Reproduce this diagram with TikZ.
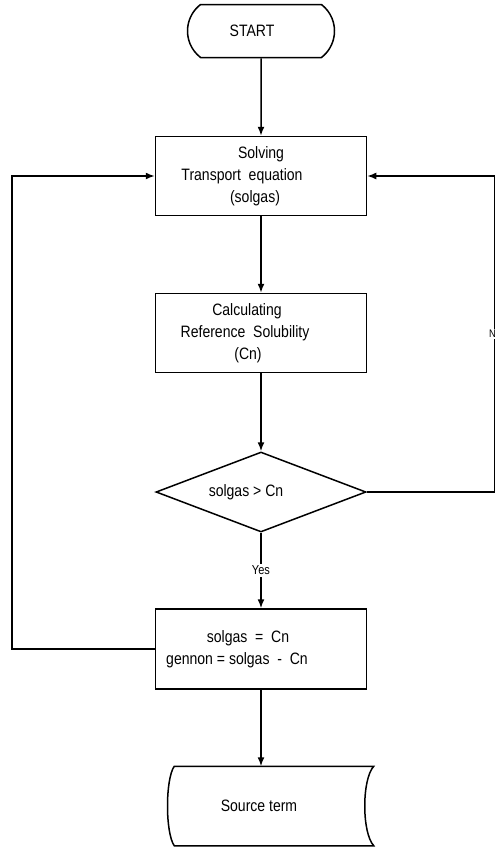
\documentclass[tikz,border=0pt]{standalone}
\usepackage{fontspec}
\setmainfont[FakeStretch=0.85]{Liberation Sans}
\usetikzlibrary{arrows.meta,shapes.geometric,shapes.misc}

\tikzset{
  box/.style={draw, line width=1.5pt, minimum width=211pt, minimum height=79pt,
    align=center, inner sep=0pt, font=\fontsize{16.5}{22}\selectfont},
  flow/.style={line width=1.5pt, -{Latex[length=9pt,width=7pt]}},
  lbl/.style={fill=white, inner sep=1.5pt, font=\fontsize{13}{14}\selectfont},
}

\begin{document}
\begin{tikzpicture}[x=1pt, y=-1pt]
  \useasboundingbox (0,0) rectangle (495,847);
  \fill[white] (0,0) rectangle (495,847);

  \node[box, rounded rectangle, rounded rectangle arc length=105,
    minimum width=147pt, minimum height=53pt] (start) at (261,31) {\hspace*{-18pt}START};

  \node[box] (b1) at (261,176)
    {Solving\\\hspace*{-38pt}Transport~ equation\\\hspace*{-12pt}(solgas)};

  \node[box] (b2) at (261,333)
    {\hspace*{-28pt}Calculating\\\hspace*{-32pt}Reference~ Solubility\\\hspace*{-26pt}(Cn)};

  \node[box, diamond, aspect=2.625, minimum width=210pt, minimum height=80pt]
    (dec) at (261,492) {\hspace*{-30pt}solgas > Cn};

  \node[box, minimum height=80pt] (b3) at (261,649)
    {\hspace*{-26pt}solgas~ =~ Cn\\\hspace*{-48pt}gennon = solgas~ -~ Cn};

  % stored data
  \node[box, draw=none, minimum width=198pt, minimum height=78pt] (src) at (274,806)
    {\hspace*{-30pt}Source term};
  \draw[line width=1.5pt] (src.north west) .. controls +(-9,13) and +(-9,-13) .. (src.south west)
    -- (src.south east) .. controls +(-12,-13) and +(-12,13) .. (src.north east) -- cycle;

  \draw[flow] (start) -- (b1);
  \draw[flow] (b1) -- (b2);
  \draw[flow] (b2) -- (dec);
  \draw[flow] (dec) -- node[lbl] {Yes} (b3);
  \draw[flow] (dec.east) -- ++(128,0) |- node[lbl, font=\fontsize{11}{12}\selectfont,
    pos=0.25, anchor=west, xshift=-8pt] {No} (b1.east);
  \draw[flow] (b3.west) -- ++(-143,0) |- (b1.west);
  \draw[flow] (b3) -- (b3.south |- src.north);
\end{tikzpicture}
\end{document}
